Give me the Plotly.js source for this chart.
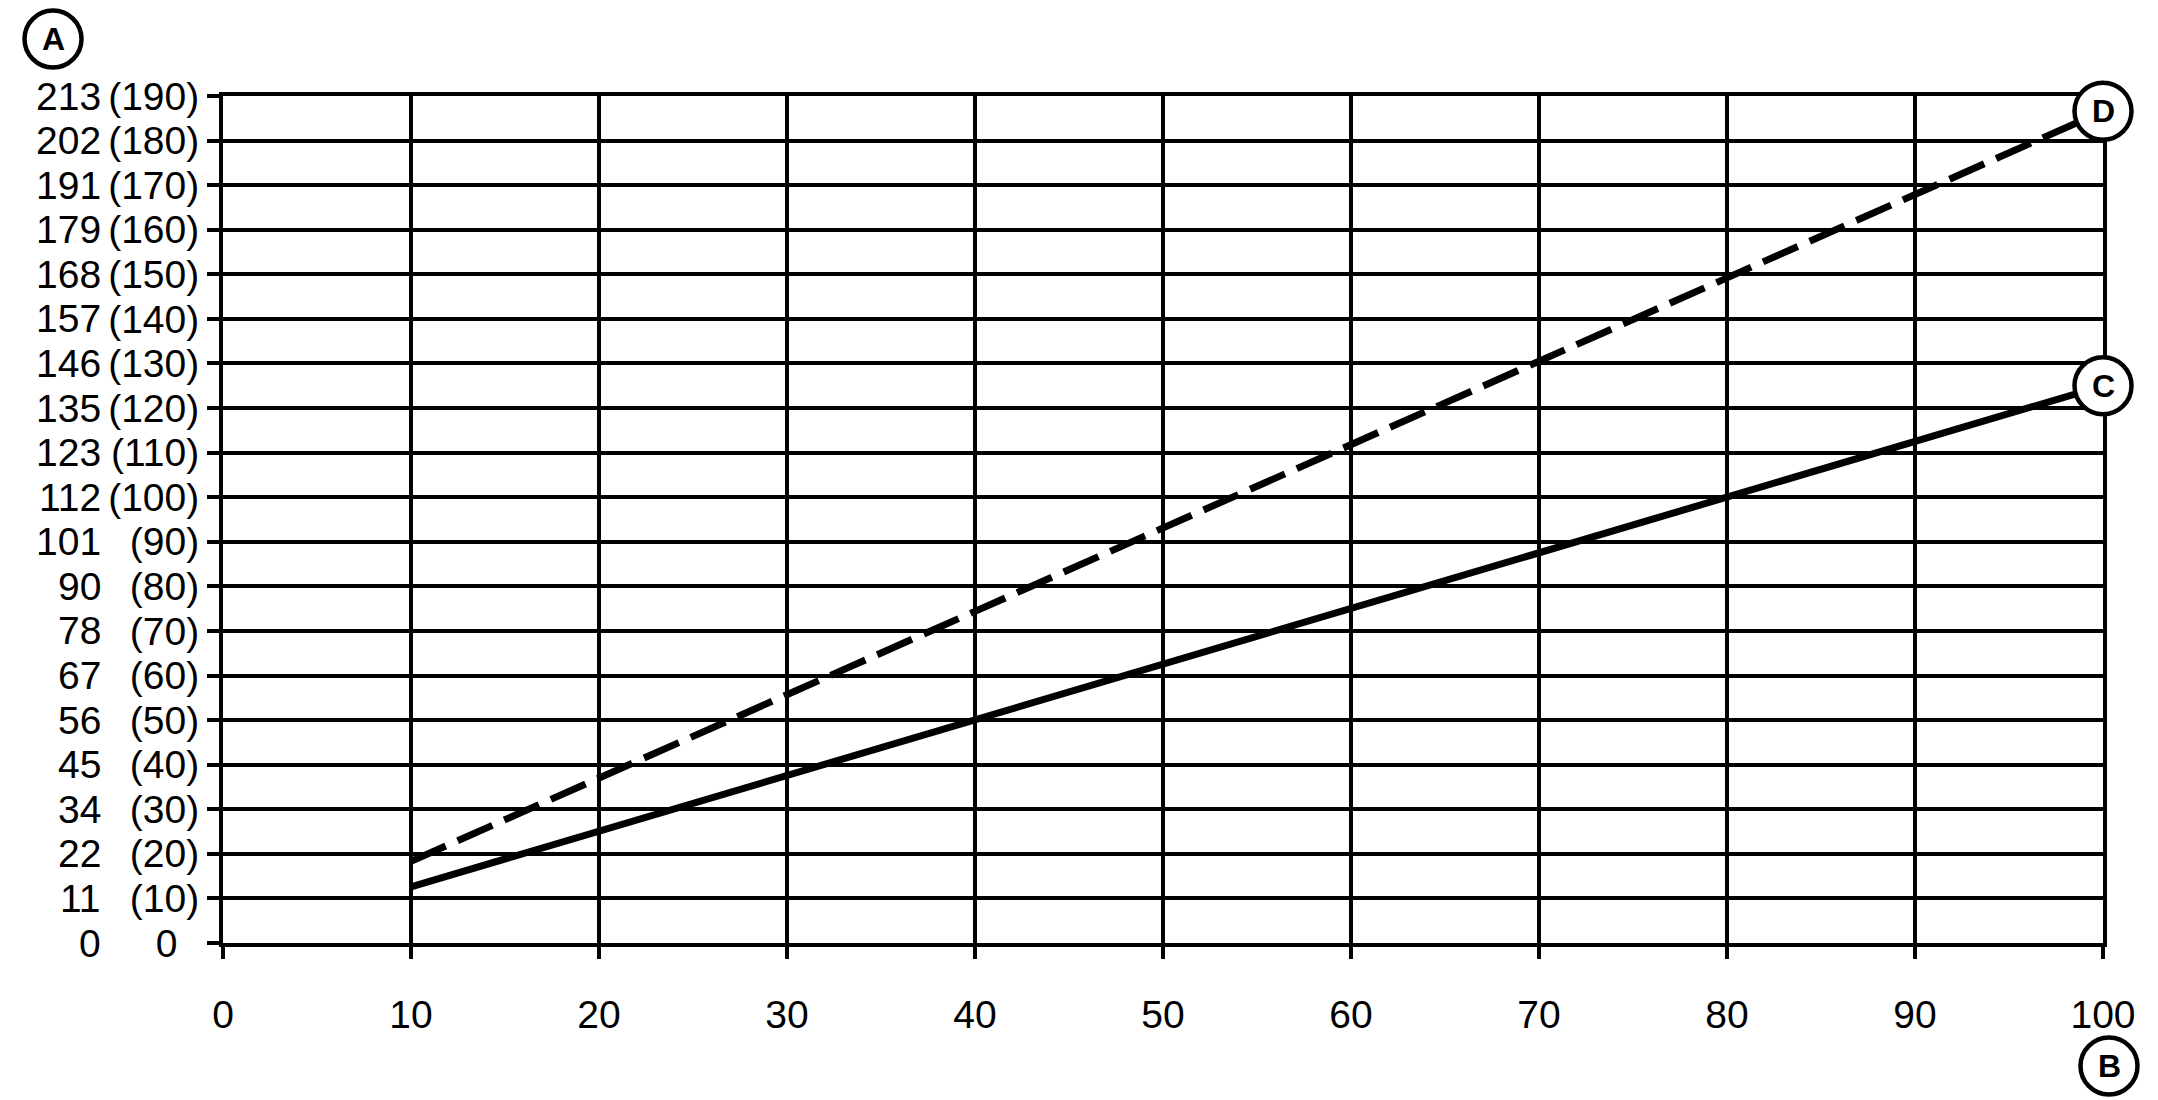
<!DOCTYPE html>
<html>
<head>
<meta charset="utf-8">
<script src="https://cdn.plot.ly/plotly-3.0.1.min.js"></script>
<style>html,body{margin:0;padding:0;background:#fff;}#chart{width:2158px;height:1100px;}</style>
</head>
<body>
<div id="chart"></div>
<script>
// ---- data ----
const xTicks = [0, 10, 20, 30, 40, 50, 60, 70, 80, 90, 100];
const yTicks = [0, 10, 20, 30, 40, 50, 60, 70, 80, 90, 100, 110, 120, 130, 140, 150, 160, 170, 180, 190];
const yLabelsParen = ["0\u00a0\u00a0", "(10)", "(20)", "(30)", "(40)", "(50)", "(60)", "(70)", "(80)", "(90)",
  "(100)", "(110)", "(120)", "(130)", "(140)", "(150)", "(160)", "(170)", "(180)", "(190)"];
const yLabelsOuter = ["0", "11", "22", "34", "45", "56", "67", "78", "90", "101",
  "112", "123", "135", "146", "157", "168", "179", "191", "202", "213"];
const lineX = [10, 100];
const lineC = [12.6, 125];
const lineD = [18.3, 186.6];
const endLabels = ["C", "D"];
const axisLabelX = "B";
const axisLabelY = "A";

// ---- layout geometry ----
const W = 2158, H = 1100;
const M = {l: 223, r: 55, t: 96, b: 157};
const X_RANGE = [0, 100], Y_RANGE = [0, 190];
const FONT = "Liberation Sans, Arial, Helvetica, sans-serif";
const pw = W - M.l - M.r, ph = H - M.t - M.b;
const px2paperX = p => (p - M.l) / pw;
const px2paperY = p => (H - M.b - p) / ph;
const data2paperX = v => (v - X_RANGE[0]) / (X_RANGE[1] - X_RANGE[0]);
const data2paperY = v => (v - Y_RANGE[0]) / (Y_RANGE[1] - Y_RANGE[0]);

const traces = [
  {x: lineX, y: lineD, mode: "lines", line: {color: "#000", width: 7, dash: "38px,13px"}, hoverinfo: "skip"},
  {x: lineX, y: lineC, mode: "lines", line: {color: "#000", width: 7}, hoverinfo: "skip"}
];

const annotations = yTicks.map((v, i) => ({
  x: 0, xref: "paper", y: v, yref: "y", text: yLabelsOuter[i], showarrow: false,
  xanchor: "right", yanchor: "middle", xshift: -120, font: {family: FONT, size: 39, color: "#000"}
}));

const circ = (xp, yp) => ({
  type: "circle", xref: "paper", yref: "paper", xsizemode: "pixel", ysizemode: "pixel",
  xanchor: xp, yanchor: yp, x0: -28.5, x1: 28.5, y0: -28.5, y1: 28.5,
  line: {color: "#000", width: 4.5}, fillcolor: "#fff", layer: "above"
});
const letter = (xp, yp, t) => ({
  x: xp, y: yp, xref: "paper", yref: "paper", text: t, showarrow: false,
  xanchor: "center", yanchor: "middle", font: {family: FONT, size: 32, color: "#000", weight: "bold"}
});

const labelPts = [
  [px2paperX(53), px2paperY(39), axisLabelY],
  [px2paperX(2109), px2paperY(1066), axisLabelX],
  [data2paperX(lineX[1]), data2paperY(lineC[1]), endLabels[0]],
  [data2paperX(lineX[1]), data2paperY(lineD[1]), endLabels[1]]
];
const shapes = labelPts.map(p => circ(p[0], p[1]));
labelPts.forEach(p => annotations.push(letter(p[0], p[1], p[2])));

const axCommon = {
  showgrid: true, gridcolor: "#000", gridwidth: 4, zeroline: false,
  showline: true, mirror: true, linecolor: "#000", linewidth: 4,
  ticks: "outside", ticklen: 12, tickwidth: 4, tickcolor: "#000",
  tickfont: {family: FONT, size: 39, color: "#000"}, fixedrange: true
};

const layout = {
  width: W, height: H, margin: M, showlegend: false,
  paper_bgcolor: "#fff", plot_bgcolor: "#fff",
  xaxis: Object.assign({}, axCommon, {range: X_RANGE, tickmode: "array", tickvals: xTicks,
    ticktext: xTicks.map(String), ticklabelstandoff: 22}),
  yaxis: Object.assign({}, axCommon, {range: Y_RANGE, tickmode: "array", tickvals: yTicks,
    ticktext: yLabelsParen, ticklabelstandoff: 0}),
  annotations: annotations, shapes: shapes
};

Plotly.newPlot("chart", traces, layout, {staticPlot: true, displayModeBar: false});
</script>
</body>
</html>
